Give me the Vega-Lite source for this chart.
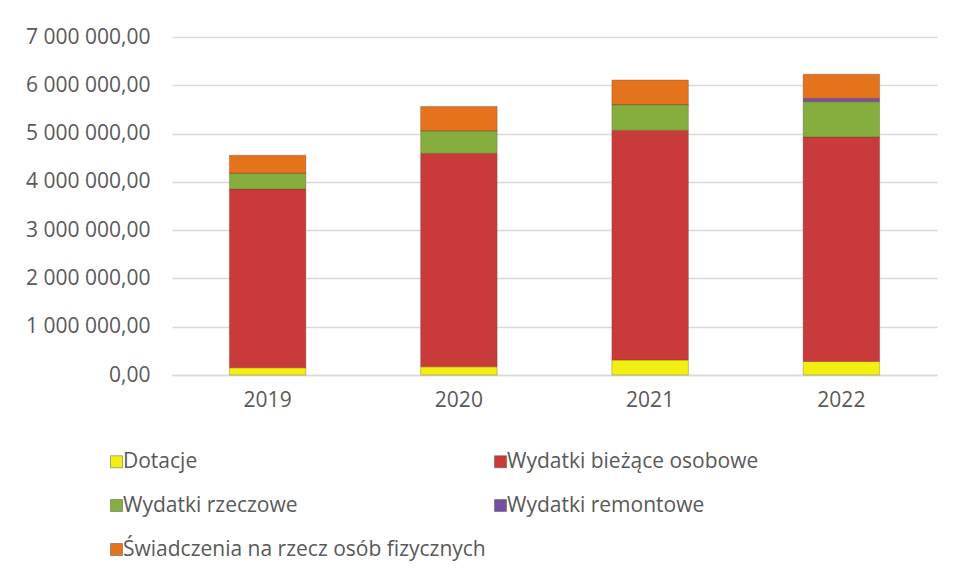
{
  "$schema": "https://vega.github.io/schema/vega-lite/v6.json",
  "autosize": "none",
  "width": 765,
  "height": 338,
  "padding": {"left": 172, "top": 37, "right": 18, "bottom": 202},
  "background": "white",
  "config": {
    "locale": {"number": {"decimal": ",", "thousands": " ", "grouping": [3], "currency": ["", ""]}},
    "font": "Open Sans",
    "view": {"stroke": null},
    "axis": {"labelFont": "Open Sans", "labelColor": "#595959", "labelFontSize": 21}
  },
  "data": {
    "values": [
      {"rok": "2019", "kategoria": "Dotacje", "wartosc": 150000},
      {"rok": "2019", "kategoria": "Wydatki bieżące osobowe", "wartosc": 3700000},
      {"rok": "2019", "kategoria": "Wydatki rzeczowe", "wartosc": 330000},
      {"rok": "2019", "kategoria": "Wydatki remontowe", "wartosc": 0},
      {"rok": "2019", "kategoria": "Świadczenia na rzecz osób fizycznych", "wartosc": 370000},
      {"rok": "2020", "kategoria": "Dotacje", "wartosc": 170000},
      {"rok": "2020", "kategoria": "Wydatki bieżące osobowe", "wartosc": 4420000},
      {"rok": "2020", "kategoria": "Wydatki rzeczowe", "wartosc": 470000},
      {"rok": "2020", "kategoria": "Wydatki remontowe", "wartosc": 0},
      {"rok": "2020", "kategoria": "Świadczenia na rzecz osób fizycznych", "wartosc": 500000},
      {"rok": "2021", "kategoria": "Dotacje", "wartosc": 310000},
      {"rok": "2021", "kategoria": "Wydatki bieżące osobowe", "wartosc": 4760000},
      {"rok": "2021", "kategoria": "Wydatki rzeczowe", "wartosc": 530000},
      {"rok": "2021", "kategoria": "Wydatki remontowe", "wartosc": 0},
      {"rok": "2021", "kategoria": "Świadczenia na rzecz osób fizycznych", "wartosc": 510000},
      {"rok": "2022", "kategoria": "Dotacje", "wartosc": 280000},
      {"rok": "2022", "kategoria": "Wydatki bieżące osobowe", "wartosc": 4650000},
      {"rok": "2022", "kategoria": "Wydatki rzeczowe", "wartosc": 730000},
      {"rok": "2022", "kategoria": "Wydatki remontowe", "wartosc": 70000},
      {"rok": "2022", "kategoria": "Świadczenia na rzecz osób fizycznych", "wartosc": 500000}
    ]
  },
  "transform": [
    {"calculate": "indexof(['Dotacje', 'Wydatki bieżące osobowe', 'Wydatki rzeczowe', 'Wydatki remontowe', 'Świadczenia na rzecz osób fizycznych'], datum.kategoria)", "as": "kolejnosc"}
  ],
  "mark": {"type": "bar", "stroke": "#5a3a2a", "strokeWidth": 0.5, "strokeOpacity": 0.6},
  "encoding": {
    "x": {
      "field": "rok", "type": "nominal",
      "scale": {"paddingInner": 0.6, "paddingOuter": 0.3},
      "axis": {"title": null, "labelAngle": 0, "domain": true, "domainColor": "#D9D9D9", "domainWidth": 1.5, "ticks": false, "labelPadding": 14}
    },
    "y": {
      "field": "wartosc", "type": "quantitative", "stack": "zero",
      "scale": {"domain": [0, 7000000], "nice": false},
      "axis": {"title": null, "format": ",.2f", "values": [0, 1000000, 2000000, 3000000, 4000000, 5000000, 6000000, 7000000], "labelOverlap": false, "domain": false, "ticks": false, "labelPadding": 22, "gridColor": "#D9D9D9", "gridWidth": 1.5}
    },
    "order": {"field": "kolejnosc", "type": "quantitative", "sort": "ascending"},
    "color": {
      "field": "kategoria", "type": "nominal",
      "scale": {
        "domain": ["Dotacje", "Wydatki bieżące osobowe", "Wydatki rzeczowe", "Wydatki remontowe", "Świadczenia na rzecz osób fizycznych"],
        "range": ["#F2F010", "#C93B3B", "#86AE3E", "#7650A0", "#E4731C"]
      },
      "legend": {
        "title": null, "orient": "none", "legendX": -66, "legendY": 414,
        "columns": 2, "direction": "horizontal",
        "symbolType": "square", "symbolSize": 144, "symbolStrokeWidth": 0.5, "symbolStrokeColor": "#555555",
        "labelFont": "Open Sans", "labelFontSize": 21, "labelColor": "#595959", "labelLimit": 420,
        "labelOffset": -4, "rowPadding": 22, "columnPadding": 4
      }
    }
  }
}
